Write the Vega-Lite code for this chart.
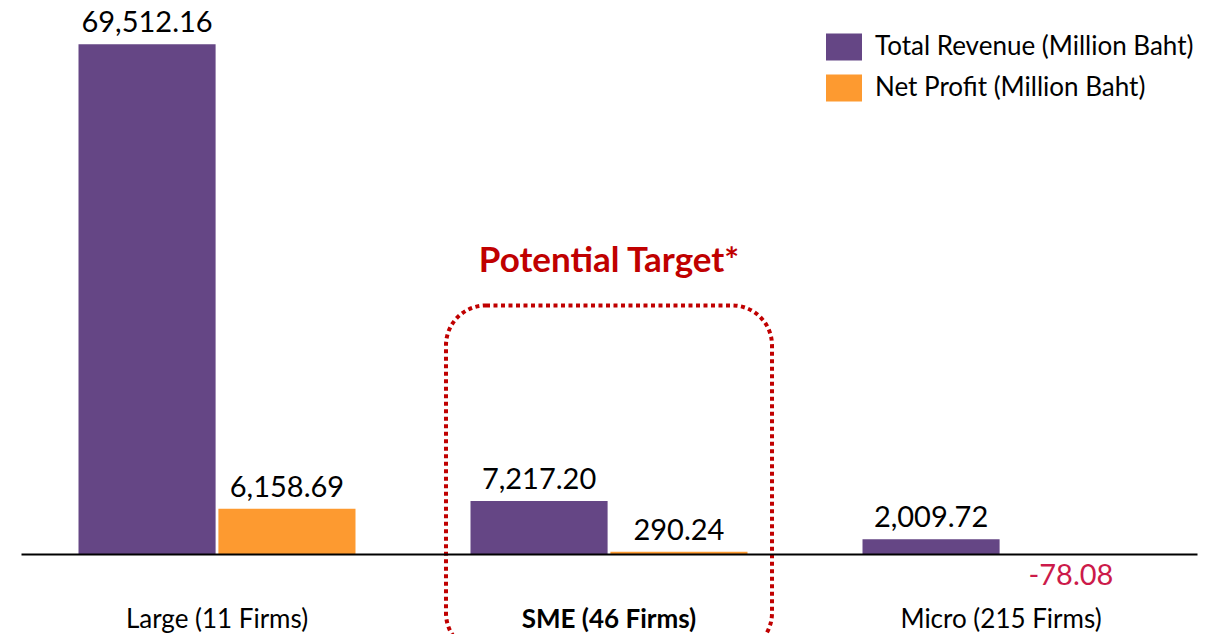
{
  "$schema": "https://vega.github.io/schema/vega-lite/v6.json",
  "autosize": "none",
  "width": 1176,
  "height": 550,
  "padding": {"left": 21, "top": 4, "right": 28, "bottom": 80},
  "background": "white",
  "config": {
    "view": {"stroke": null},
    "font": "Lato",
    "locale": {"number": {"decimal": ".", "thousands": ",", "grouping": [3], "currency": ["", ""], "minus": "-"}}
  },
  "datasets": {
    "firms": [
      {"category": "Large (11 Firms)", "series": "Total Revenue (Million Baht)", "value": 69512.16},
      {"category": "Large (11 Firms)", "series": "Net Profit (Million Baht)", "value": 6158.69},
      {"category": "SME (46 Firms)", "series": "Total Revenue (Million Baht)", "value": 7217.20},
      {"category": "SME (46 Firms)", "series": "Net Profit (Million Baht)", "value": 290.24},
      {"category": "Micro (215 Firms)", "series": "Total Revenue (Million Baht)", "value": 2009.72},
      {"category": "Micro (215 Firms)", "series": "Net Profit (Million Baht)", "value": -78.08}
    ],
    "highlight": [
      {"category": "SME (46 Firms)", "top": 33900, "bottom": -13500, "noteY": 40000, "note": "Potential Target*"}
    ]
  },
  "encoding": {
    "x": {
      "field": "category",
      "type": "nominal",
      "sort": null,
      "scale": {"domain": ["Large (11 Firms)", "SME (46 Firms)", "Micro (215 Firms)"], "paddingInner": 0.2934, "paddingOuter": 0.1467},
      "axis": {
        "title": null,
        "ticks": false,
        "grid": false,
        "zindex": 1,
        "domainColor": "#000000",
        "domainWidth": 2,
        "labelAngle": 0,
        "labelFontSize": 26,
        "labelColor": "#000000",
        "labelBaseline": "alphabetic",
        "labelPadding": 73,
        "labelLimit": 400,
        "labelFontWeight": {"condition": {"test": "datum.value == 'SME (46 Firms)'", "value": "bold"}, "value": "normal"}
      }
    }
  },
  "layer": [
    {
      "data": {"name": "firms"},
      "mark": {"type": "bar"},
      "encoding": {
        "xOffset": {"field": "series", "type": "nominal", "sort": null, "scale": {"domain": ["Total Revenue (Million Baht)", "Net Profit (Million Baht)"], "paddingInner": 0.02, "paddingOuter": 0}},
        "y": {"field": "value", "type": "quantitative", "scale": {"domain": [0, 75000], "nice": false}, "axis": null},
        "color": {
          "field": "series",
          "type": "nominal",
          "sort": null,
          "scale": {"domain": ["Total Revenue (Million Baht)", "Net Profit (Million Baht)"], "range": ["#654685", "#FD9A30"]},
          "legend": {
            "title": null,
            "orient": "none",
            "legendX": 805,
            "legendY": 25,
            "padding": 0,
            "symbolType": "M-1,-0.75H1V0.75H-1Z",
            "symbolSize": 1296,
            "symbolStrokeWidth": 0,
            "labelFontSize": 26,
            "labelColor": "#000000",
            "labelOffset": 13,
            "rowPadding": 9,
            "labelLimit": 400
          }
        }
      }
    },
    {
      "data": {"name": "firms"},
      "transform": [{"filter": "datum.value >= 0"}],
      "mark": {"type": "text", "baseline": "alphabetic", "dy": -12, "fontSize": 29, "color": "#000000"},
      "encoding": {
        "xOffset": {"field": "series", "type": "nominal", "sort": null},
        "y": {"field": "value", "type": "quantitative"},
        "text": {"field": "value", "type": "quantitative", "format": ",.2f"}
      }
    },
    {
      "data": {"name": "firms"},
      "transform": [{"filter": "datum.value < 0"}],
      "mark": {"type": "text", "baseline": "alphabetic", "dy": 30, "fontSize": 29, "color": "#CC1A4A"},
      "encoding": {
        "xOffset": {"field": "series", "type": "nominal", "sort": null},
        "y": {"field": "value", "type": "quantitative"},
        "text": {"field": "value", "type": "quantitative", "format": ",.2f"}
      }
    },
    {
      "data": {"name": "highlight"},
      "mark": {
        "type": "bar",
        "width": {"band": 1.177},
        "fill": null,
        "fillOpacity": 0,
        "stroke": "#C00000",
        "strokeWidth": 4,
        "strokeDash": [4, 3.5],
        "cornerRadius": 40,
        "clip": false
      },
      "encoding": {
        "y": {"field": "top", "type": "quantitative"},
        "y2": {"field": "bottom"}
      }
    },
    {
      "data": {"name": "highlight"},
      "mark": {"type": "text", "baseline": "middle", "fontSize": 35, "fontWeight": "bold", "color": "#C00000"},
      "encoding": {
        "y": {"field": "noteY", "type": "quantitative"},
        "text": {"field": "note"}
      }
    }
  ]
}
